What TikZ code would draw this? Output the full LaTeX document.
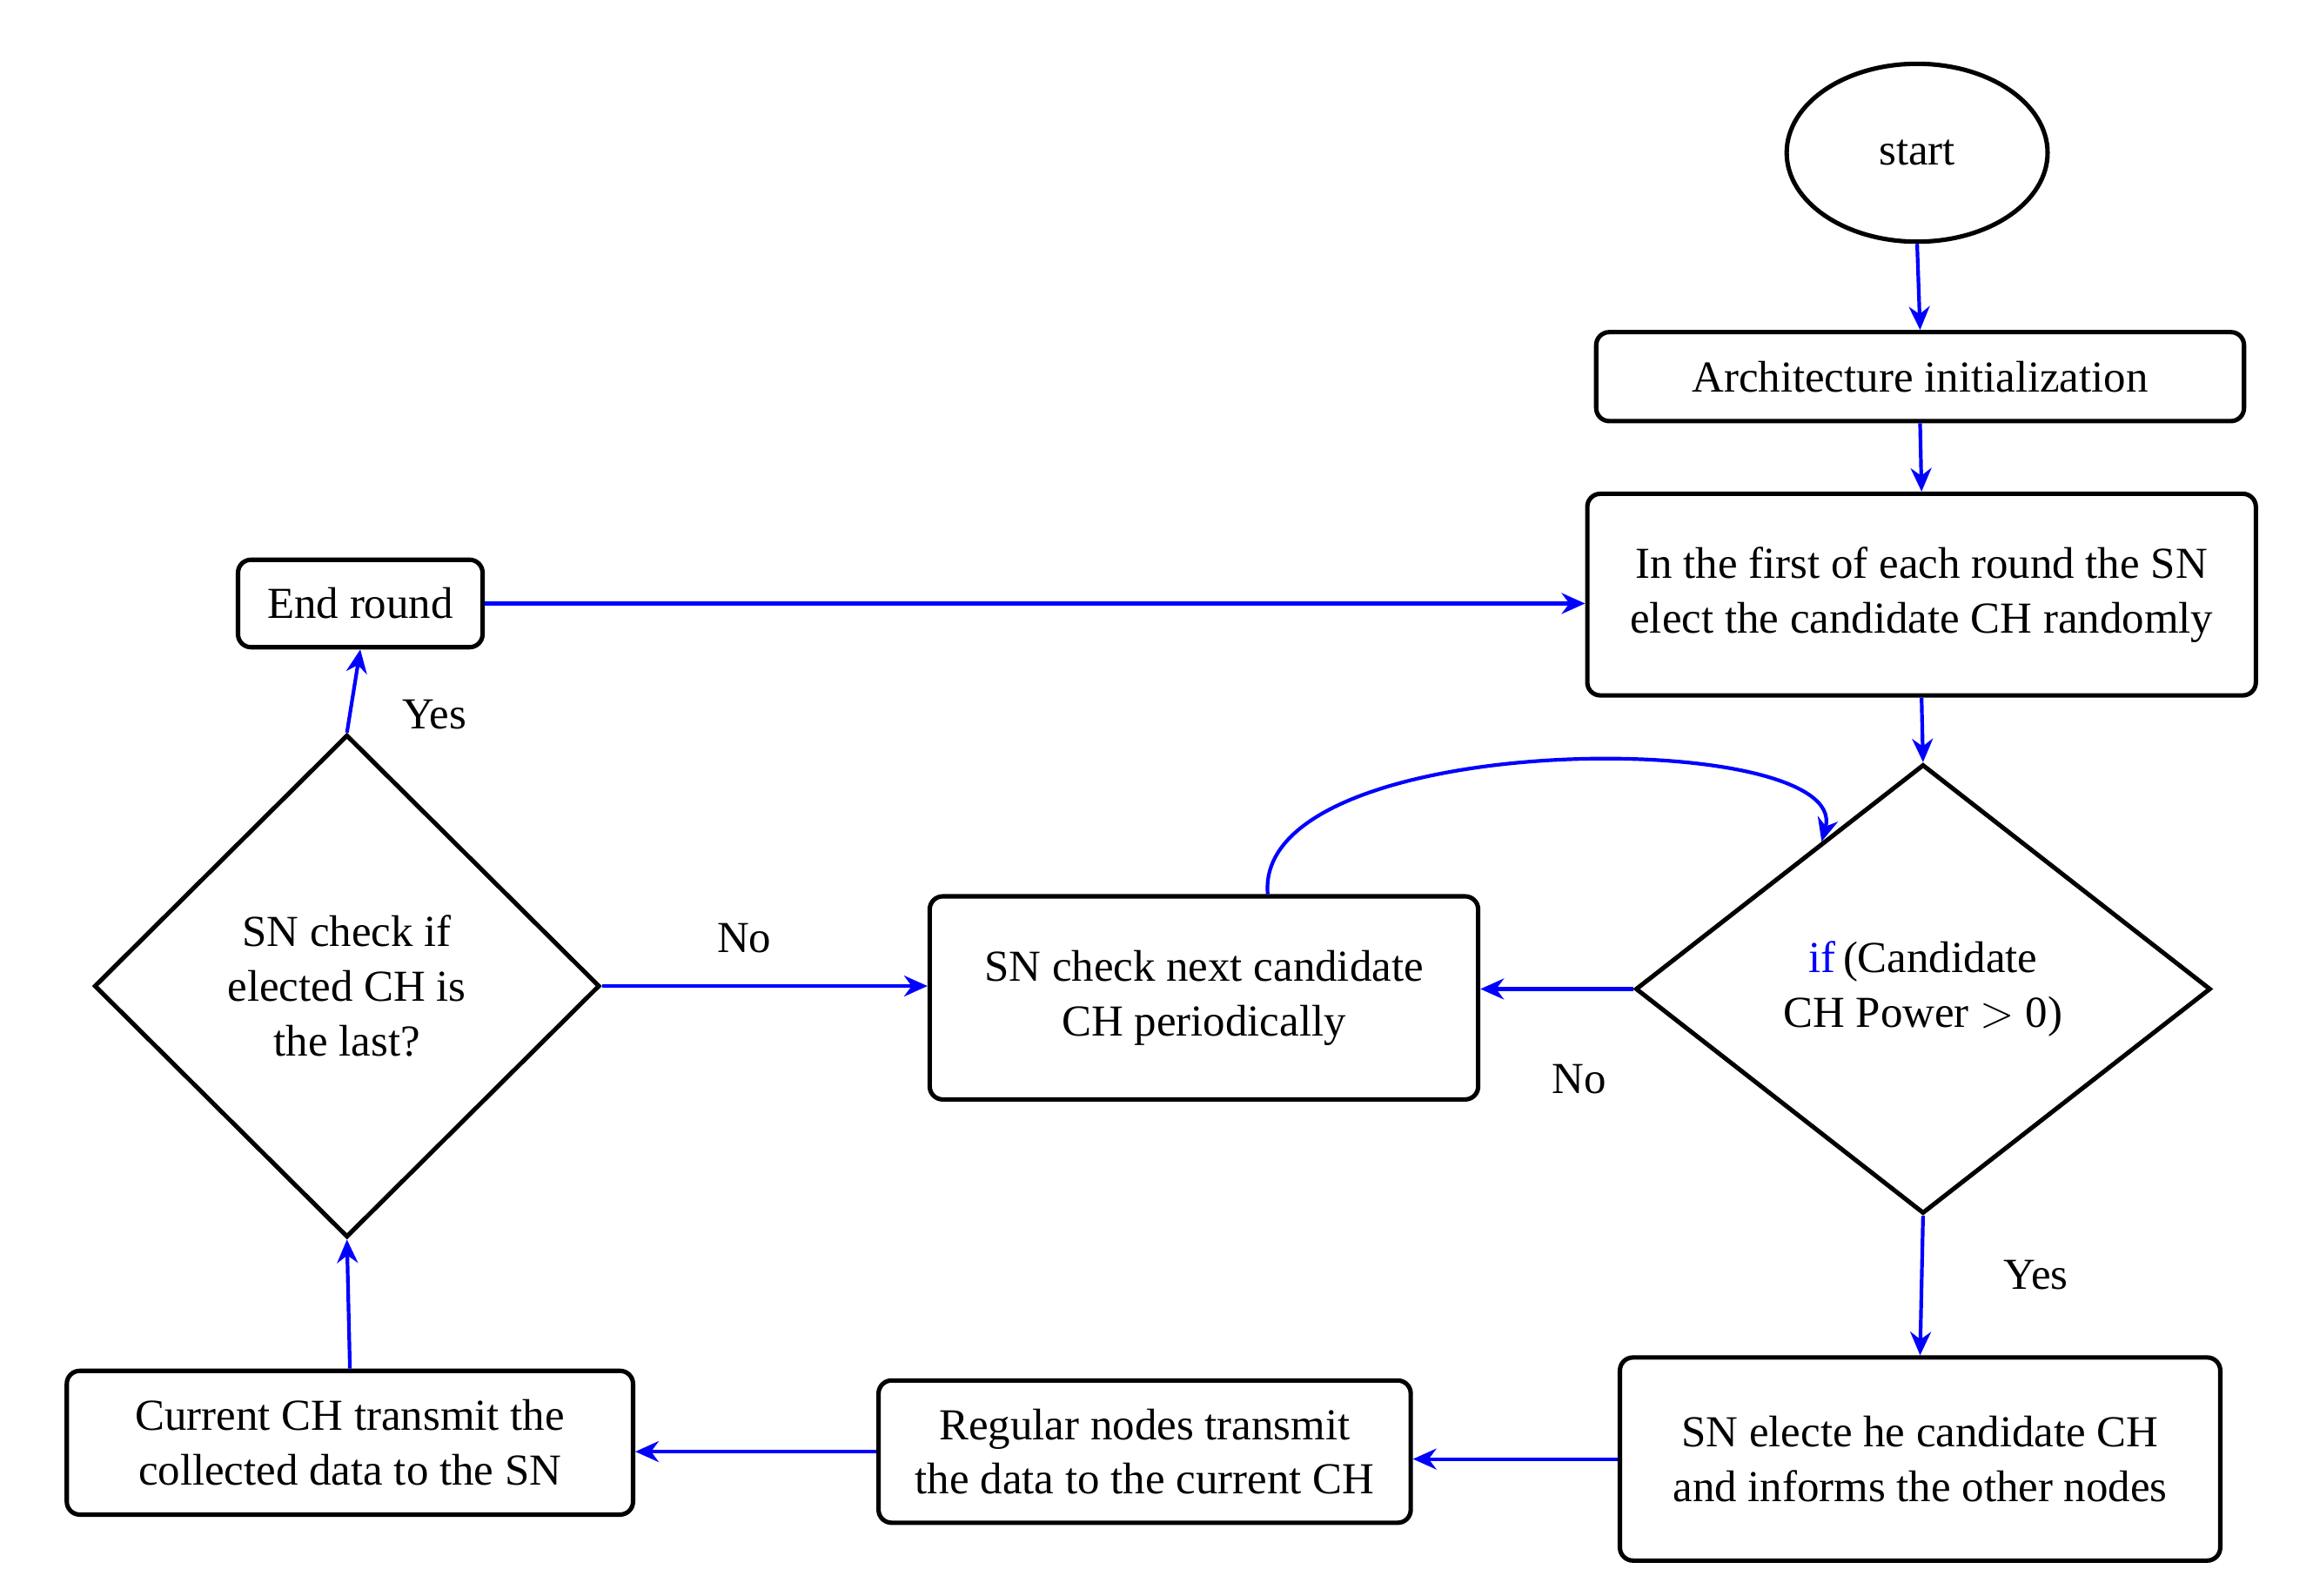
\documentclass[tikz,border=0pt]{standalone}
\usepackage{fontspec}
\setmainfont{Liberation Serif}
\usetikzlibrary{shapes.geometric,arrows.meta,calc}
\begin{document}
\begin{tikzpicture}[x=0.02cm,y=-0.02cm,
  every node/.style={font=\fontsize{17}{21}\selectfont, inner sep=0pt, align=center},
  box/.style={draw, line width=1.7pt, rounded corners=5pt},
  dia/.style={draw, diamond, line width=1.7pt},
  arr/.style={draw=blue, line width=1.4pt, -{Stealth[length=9pt,width=8pt]}},
  lbl/.style={font=\fontsize{17}{21}\selectfont}]
\useasboundingbox (0,0) rectangle (1560,1076);
\node[draw, ellipse, line width=1.7pt, minimum width=3.52cm, minimum height=2.4cm] (start) at (1293,103) {start};
\node[box, minimum width=8.74cm, minimum height=1.2cm] (arch) at (1295,254) {Architecture initialization};
\node[box, minimum width=9.02cm, minimum height=2.72cm] (first) at (1296,401) {In the first of each round the SN\\elect the candidate CH randomly};
\node[box, minimum width=3.3cm, minimum height=1.18cm] (endr) at (243,407) {End round};
\node[dia, minimum width=7.76cm, minimum height=6.06cm] (diamR) at (1297,667) {{\color{blue}if}\,(Candidate\\CH Power $>$ 0)};
\node[box, minimum width=7.4cm, minimum height=2.74cm] (check) at (812,673) {SN check next candidate\\CH periodically};
\node[dia, minimum width=6.82cm, minimum height=6.78cm] (diamL) at (234,665) {SN check if\\elected CH is\\the last?};
\node[box, minimum width=8.1cm, minimum height=2.74cm] (elect) at (1295,984) {SN electe he candidate CH\\and informs the other nodes};
\node[box, minimum width=7.18cm, minimum height=1.92cm] (reg) at (772,979) {Regular nodes transmit\\the data to the current CH};
\node[box, minimum width=7.64cm, minimum height=1.94cm] (cur) at (236,973) {Current CH transmit the\\collected data to the SN};
\draw[arr] (start.south) -- (arch.north);
\draw[arr] (arch.south) -- (first.north);
\draw[arr] (first.south) -- (diamR.north);
\draw[arr] (endr.east) -- (endr.east -| first.west);
\draw[arr] (diamR.west) -- (diamR.west -| check.east);
\draw[arr] (diamR.south) -- (elect.north);
\draw[arr] (elect.west) -- (elect.west -| reg.east);
\draw[arr] (reg.west) -- (reg.west -| cur.east);
\draw[arr] (cur.north) -- (diamL.south);
\draw[arr] (diamL.north) -- (endr.south);
\draw[arr] (diamL.east) -- (diamL.east -| check.west);
\coordinate (ct) at ($(diamR.north)!0.35!(diamR.west)$);
\draw[arr] ($(check.north)+(43,0)$) .. controls (845,490) and (1250,490) .. (ct);
\node[lbl] (y1) at (293,482) {Yes};
\node[lbl] (n1) at (502,633) {No};
\node[lbl] (n2) at (1065,728) {No};
\node[lbl] (y2) at (1373,860) {Yes};
\end{tikzpicture}
\end{document}
